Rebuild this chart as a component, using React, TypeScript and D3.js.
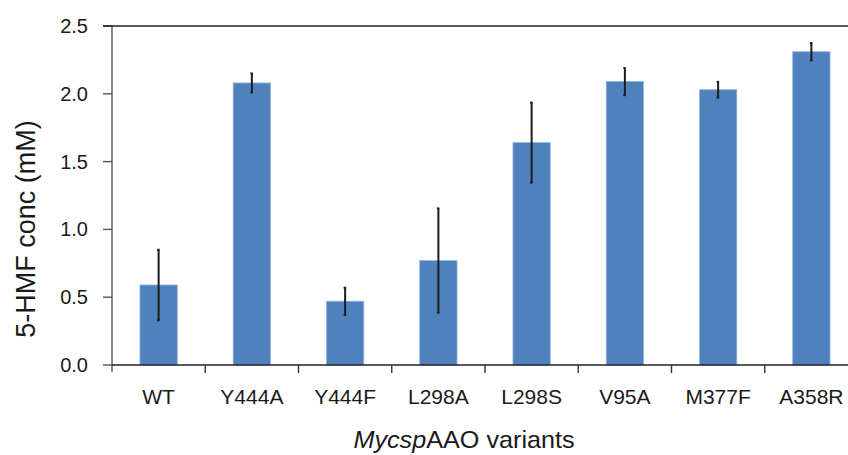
import * as d3 from 'd3';

const categories = ['WT', 'Y444A', 'Y444F', 'L298A', 'L298S', 'V95A', 'M377F', 'A358R'];
const means = [0.59, 2.08, 0.47, 0.77, 1.64, 2.09, 2.03, 2.31];
const errors = [0.26, 0.07, 0.1, 0.385, 0.295, 0.1, 0.058, 0.064];
const yTicks = [0, 0.5, 1, 1.5, 2, 2.5];

const width = 848;
const height = 455;
const font = '"Liberation Sans", Arial, Helvetica, sans-serif';

export default function App() {
  const x = d3.scaleBand<string>().domain(categories).range([112, 858]).paddingInner(0.6).paddingOuter(0.3);
  const y = d3.scaleLinear().domain([0, 2.5]).range([365, 26]);
  const x0 = 112;
  const boundaries = d3.range(categories.length + 1).map((i) => x0 + i * x.step());

  return (
    <svg
      width={width}
      height={height}
      viewBox={`0 0 ${width} ${height}`}
      style={{ position: 'fixed', top: 0, left: 0, background: '#fff' }}
      fontFamily={font}
    >
      {/* bars */}
      {categories.map((c, i) => (
        <rect
          key={c}
          x={x(c)}
          y={y(means[i])}
          width={x.bandwidth()}
          height={y(0) - y(means[i])}
          fill="#4f81bd"
          stroke="#8fb2de"
          strokeWidth={0.8}
        />
      ))}
      {/* error bars */}
      {categories.map((c, i) => {
        const cx = (x(c) ?? 0) + x.bandwidth() / 2;
        return (
          <g key={c} stroke="#1c1c1c" strokeWidth={2}>
            <line x1={cx} x2={cx} y1={y(means[i] + errors[i])} y2={y(means[i] - errors[i])} />
            <line x1={cx - 1.5} x2={cx + 1} y1={y(means[i] + errors[i])} y2={y(means[i] + errors[i])} />
            <line x1={cx - 1.5} x2={cx + 1} y1={y(means[i] - errors[i])} y2={y(means[i] - errors[i])} />
          </g>
        );
      })}
      {/* y axis */}
      <line x1={x0} x2={x0} y1={y(2.5)} y2={372} stroke="#6e6e6e" strokeWidth={1.6} />
      {yTicks.map((t) => (
        <g key={t}>
          <line x1={103} x2={x0} y1={y(t)} y2={y(t)} stroke="#555" strokeWidth={1.4} />
          <text x={88} y={y(t) + 7} textAnchor="end" fontSize={20} fill="#1a1a1a">
            {d3.format('.1f')(t)}
          </text>
        </g>
      ))}
      {/* top border at 2.5 */}
      <line x1={103} x2={width} y1={y(2.5)} y2={y(2.5)} stroke="#222" strokeWidth={1.4} />
      {/* x axis */}
      <line x1={x0} x2={width} y1={y(0)} y2={y(0)} stroke="#222" strokeWidth={1.6} />
      {boundaries.slice(1).map((b, i) => (
        <line key={i} x1={b} x2={b} y1={y(0)} y2={373} stroke="#333" strokeWidth={1.4} />
      ))}
      {categories.map((c) => (
        <text
          key={c}
          x={(x(c) ?? 0) + x.bandwidth() / 2}
          y={404}
          textAnchor="middle"
          fontSize={21}
          fill="#1a1a1a"
        >
          {c}
        </text>
      ))}
      {/* axis titles */}
      <text transform="translate(35,229) rotate(-90)" textAnchor="middle" fontSize={27} fill="#1a1a1a">
        5-HMF conc (mM)
      </text>
      <text transform="translate(464,448) scale(1.05,1)" textAnchor="middle" fontSize={24} fill="#1a1a1a">
        <tspan fontStyle="italic">Mycsp</tspan>
        <tspan>AAO variants</tspan>
      </text>
    </svg>
  );
}
